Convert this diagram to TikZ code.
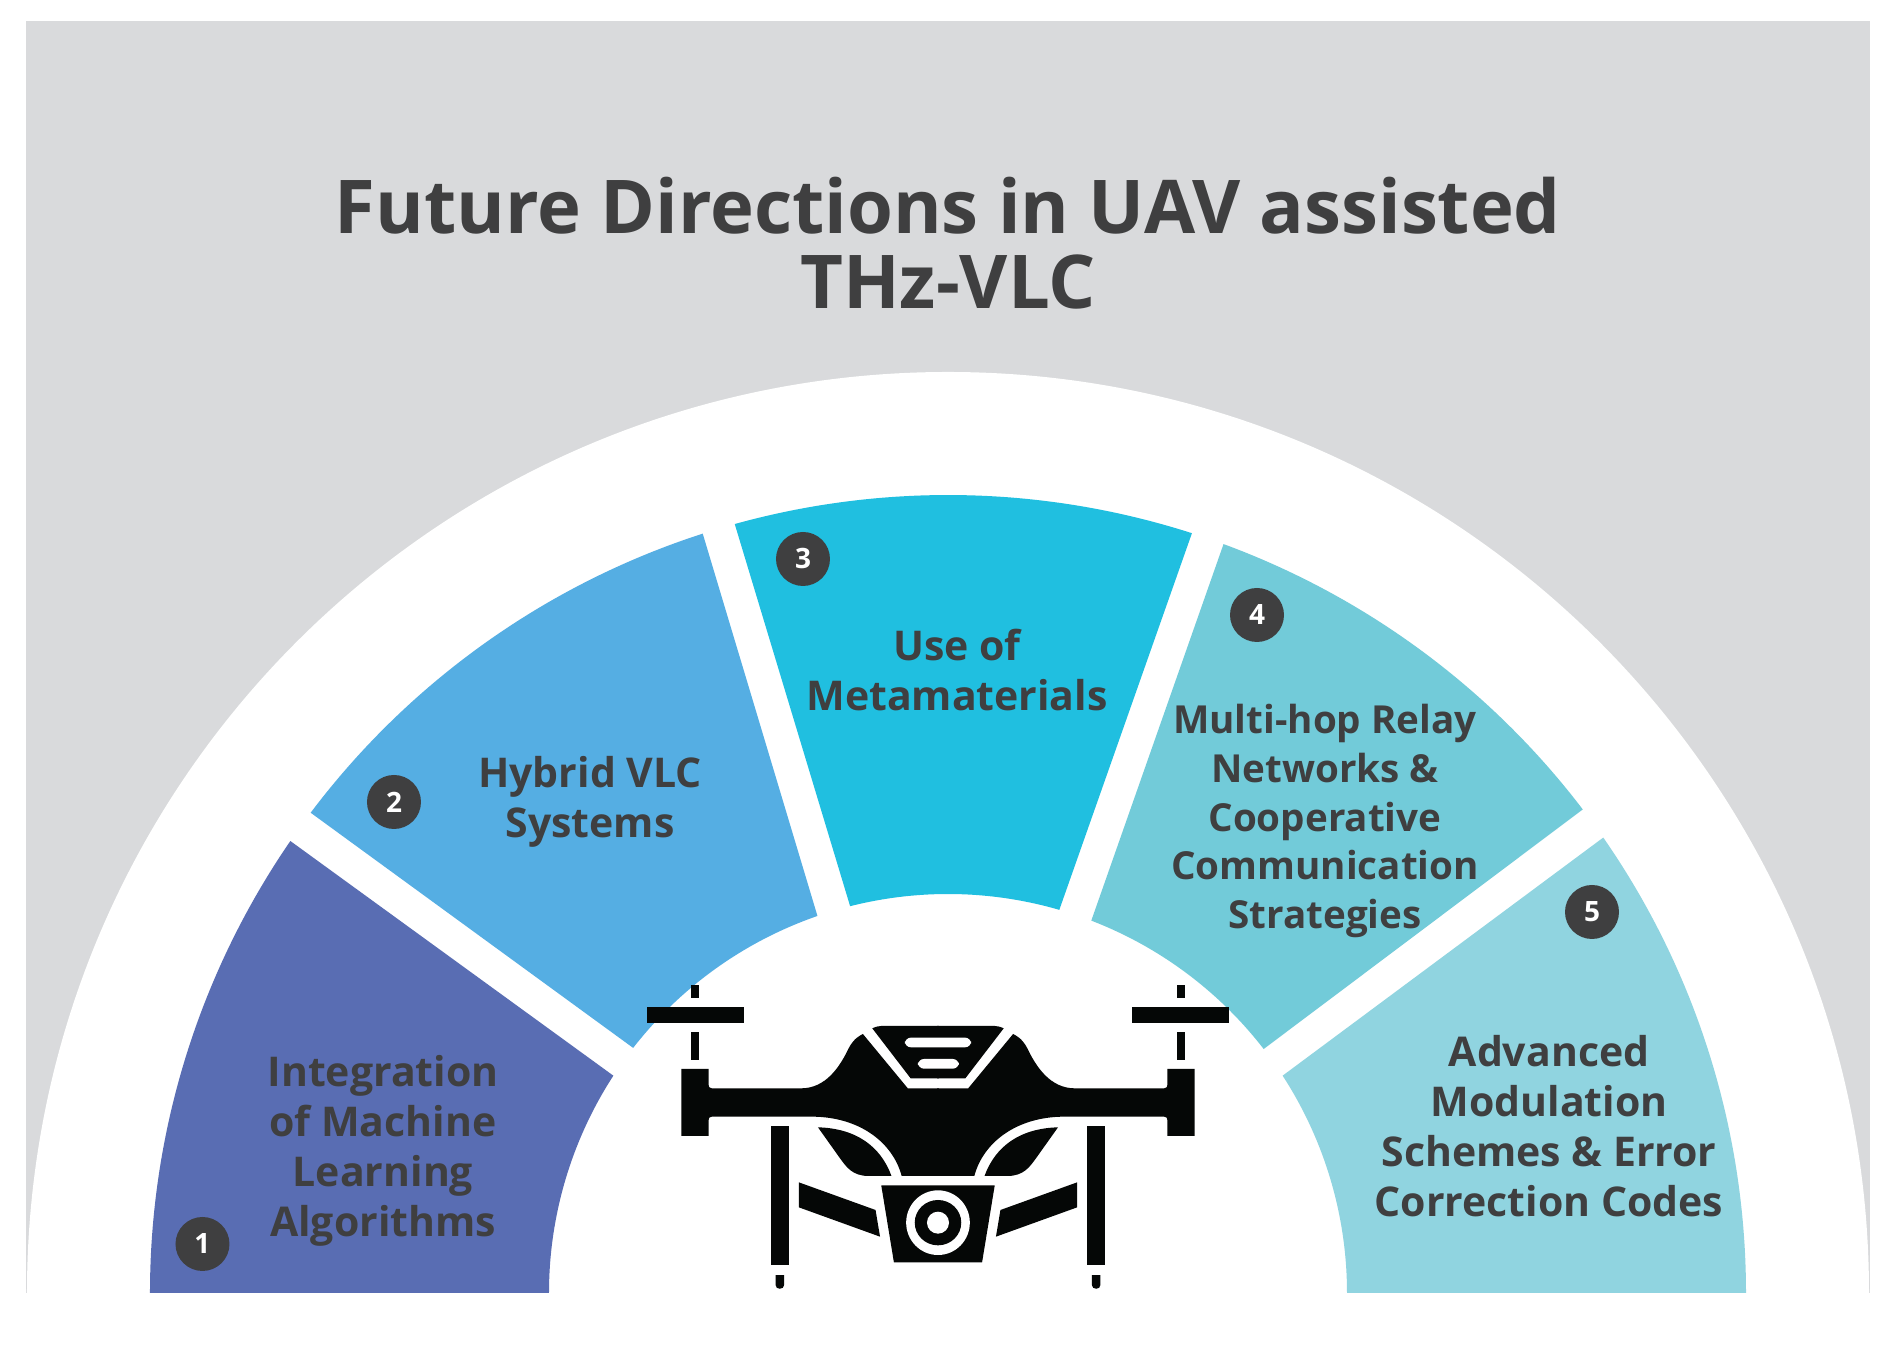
\documentclass[tikz,border=0pt]{standalone}
\usepackage{fontspec}
\setmainfont{Open Sans}
\definecolor{bgGray}{HTML}{D9DADC}
\definecolor{inkGray}{HTML}{3F3F40}
\definecolor{segA}{HTML}{596DB3}
\definecolor{segB}{HTML}{55AEE3}
\definecolor{segC}{HTML}{20BFE0}
\definecolor{segD}{HTML}{72CBD9}
\definecolor{segE}{HTML}{90D4E0}
\definecolor{droneInk}{HTML}{050706}
\tikzset{
  seglabel/.style={text=inkGray,font=\fontsize{20.5}{25}\selectfont\bfseries,align=center,inner sep=0pt},
  seglabeltight/.style={text=inkGray,font=\fontsize{19.3}{24.3}\selectfont\bfseries,align=center,inner sep=0pt},
  badge/.style={circle,fill=inkGray,text=white,minimum size=27pt,inner sep=0pt,font=\fontsize{14}{14}\selectfont\bfseries},
  titletext/.style={text=inkGray,font=\fontsize{37.1}{37.5}\selectfont\bfseries,align=center,inner sep=0pt},
  dronefill/.style={fill=droneInk,draw=none},
  droneGap/.style={fill=white,draw=none}
}
\newcommand{\dronehalf}{%
  % arm and body
  \path[dronefill] (2,385) -- (-74,385) -- (-184,222)
    .. controls (-205,235) and (-212,250) .. (-219,265)
    .. controls (-240,320) and (-275,385) .. (-335,385)
    -- (-554,385) .. controls (-560,385) and (-562,380) .. (-562,375)
    -- (-562,327) -- (-629,327) -- (-629,528) -- (-562,528) -- (-562,480)
    .. controls (-562,474) and (-560,470) .. (-554,470)
    -- (-310,470) .. controls (-190,470) and (-110,550) .. (-89,648)
    -- (2,648) -- cycle;
  % cap
  \path[dronefill] (-161,205) .. controls (-152,200) and (-145,198) .. (-139,198)
    -- (2,198) -- (2,355) -- (-67,355) -- cycle;
  % wing
  \path[dronefill] (-294,502) .. controls (-200,505) and (-140,560) .. (-114,648)
    -- (-170,648) .. controls (-210,648) and (-225,620) .. (-240,595) -- cycle;
  % rotor
  \path[dronefill] (-713,142) rectangle (-475,188);
  \path[dronefill] (-605,75) rectangle (-586,113);
  \path[dronefill] (-605,217) rectangle (-586,300);
  % leg
  \path[dronefill] (-409,497) rectangle (-365,916);
  \path[dronefill] (-398,945) -- (-377,945) -- (-377,975)
    .. controls (-377,990) and (-398,990) .. (-398,975) -- cycle;
  % camera arm
  \path[dronefill] (-341,667) -- (-153,750) -- (-142,830) -- (-341,742) -- cycle;
}
\begin{document}
\begin{tikzpicture}[x=0.5pt,y=0.5pt]
\useasboundingbox (-948,-70) rectangle (936,1293);
% background
\path[fill=bgGray] (-922,0) rectangle (922,1272);
\path[fill=white] (-921,0) arc (180:0:921) -- cycle;
% segments
\path[fill=segA] (180:798) arc (180:145.5:798) -- (147:399) arc (147:180:399) -- cycle;
\path[fill=segB] (143:798) arc (143:107.9:798) -- (109.1:399) arc (109.1:142.1:399) -- cycle;
\path[fill=segC] (105.5:798) arc (105.5:72.2:798) -- (73.8:399) arc (73.8:104.2:399) -- cycle;
\path[fill=segD] (69.8:798) arc (69.8:37.3:798) -- (37.7:399) arc (37.7:68.95:399) -- cycle;
\path[fill=segE] (34.8:798) arc (34.8:0:798) -- (0:399) arc (0:33:399) -- cycle;
% title
\node[titletext] (title) at (0,1050) {Future Directions in UAV assisted\\THz-VLC};
% labels
\node[seglabel] (labelA) at (-565,142) {Integration\\of Machine\\Learning\\Algorithms};
\node[seglabel] (labelB) at (-358,491) {Hybrid VLC\\Systems};
\node[seglabel] (labelC) at (9,623) {Use of\\Metamaterials};
\node[seglabeltight] (labelD) at (377,472) {Multi-hop Relay\\Networks \&\\Cooperative\\Communication\\Strategies};
\node[seglabel] (labelE) at (601,167) {Advanced\\Modulation\\Schemes \& Error\\Correction Codes};
% badges
\node[badge] (b1) at (-745.5,49) {1};
\node[badge] (b2) at (-554,491) {2};
\node[badge] (b3) at (-145,734) {3};
\node[badge] (b4) at (309,678) {4};
\node[badge] (b5) at (644,381) {5};
% drone
\begin{scope}[shift={(-10,333)},x=0.20408pt,y=-0.16667pt]
  \dronehalf
  \begin{scope}[xscale=-1]\dronehalf\end{scope}
  \path[droneGap,rounded corners=3pt] (-81,233) rectangle (81,262);
  \path[droneGap,rounded corners=3pt] (-49,297) rectangle (51,326);
  \path[dronefill] (-139,676) -- (139,676) -- (108,907) -- (-108,907) -- cycle;
  \path[droneGap] (0,788) ellipse [x radius=78,y radius=97];
  \path[dronefill] (0,788) ellipse [x radius=57,y radius=68];
  \path[droneGap] (0,788) ellipse [x radius=27,y radius=33];
\end{scope}
\end{tikzpicture}
\end{document}
